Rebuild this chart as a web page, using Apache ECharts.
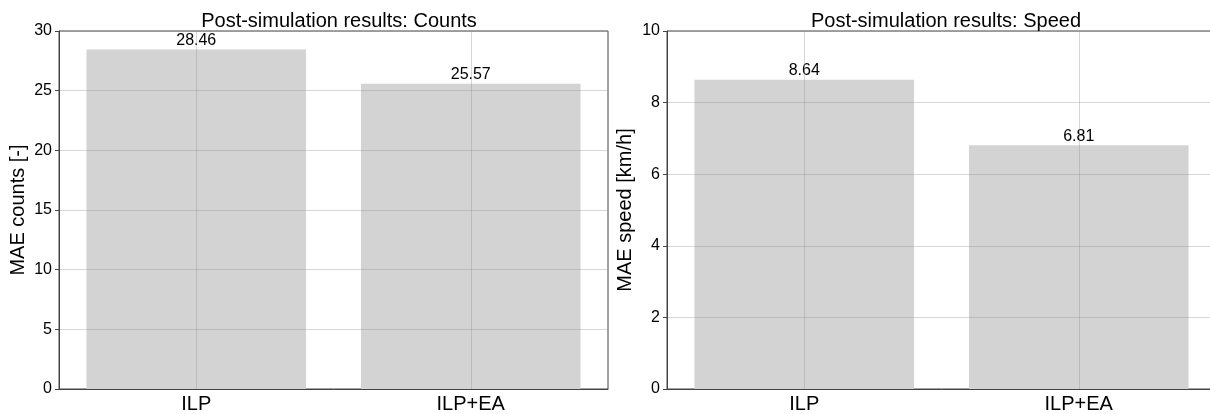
<!DOCTYPE html>
<html>
<head>
<meta charset="utf-8">
<script src="https://cdn.jsdelivr.net/npm/echarts@6/dist/echarts.min.js"></script>
<style>
    html, body { margin: 0; padding: 0; background: #fff; overflow: hidden; }
    /* a bit wider than the window: the right panel's frame falls just off-screen, as in the reference */
    #main { width: 1220px; height: 414px; }
</style>
</head>
<body>
<div id="main"></div>
<script>
var methods = ['ILP', 'ILP+EA'];
var maeCounts = [28.46, 25.57];
var maeSpeed = [8.64, 6.81];
var titles = ['Post-simulation results: Counts', 'Post-simulation results: Speed'];
var yNames = ['MAE counts [-]', 'MAE speed [km/h]'];

var FONT = 'Liberation Sans, Arial, sans-serif';
var SPINE = '#444';
var GRID_LINE = 'rgba(140,140,140,0.35)';

var grids = [
    { left: 59, top: 31, width: 549, bottom: 22 },
    { left: 667, top: 31, width: 549, bottom: 22 }
];

function makeXAxis(idx) {
    return {
        type: 'category',
        gridIndex: idx,
        data: methods,
        z: 3,
        axisLine: { lineStyle: { color: SPINE, width: 1 } },
        axisTick: { alignWithLabel: true, length: 4, lineStyle: { color: SPINE } },
        axisLabel: { color: '#000', fontSize: 20, fontFamily: FONT, margin: 5 },
        splitLine: { show: false }
    };
}

function makeYAxis(idx, max, step) {
    return {
        type: 'value',
        gridIndex: idx,
        min: 0,
        max: max,
        interval: step,
        z: 3,
        name: yNames[idx],
        nameLocation: 'middle',
        nameGap: idx === 0 ? 31 : 32,
        nameTextStyle: { color: '#000', fontSize: 20, fontFamily: FONT },
        axisLine: { show: true, lineStyle: { color: SPINE, width: 1 } },
        axisTick: { show: true, length: 4, lineStyle: { color: SPINE } },
        axisLabel: { color: '#000', fontSize: 16, fontFamily: FONT, margin: 7 },
        splitLine: { show: true, lineStyle: { color: GRID_LINE, width: 1 } }
    };
}

function makeSeries(idx, values) {
    return {
        type: 'bar',
        xAxisIndex: idx,
        yAxisIndex: idx,
        data: values,
        barWidth: '80%',
        itemStyle: { color: '#d3d3d3' },
        label: {
            show: true,
            position: 'top',
            distance: 1,
            color: '#000',
            fontSize: 16,
            fontFamily: FONT,
            formatter: function (p) { return p.value.toFixed(2); }
        },
        markLine: {
            silent: true,
            symbol: 'none',
            label: { show: false },
            lineStyle: { color: GRID_LINE, width: 1, type: 'solid' },
            data: methods.map(function (m) { return { xAxis: m }; })
        }
    };
}

var chart = echarts.init(document.getElementById('main'), null, { renderer: 'canvas' });
chart.setOption({
    animation: false,
    backgroundColor: '#fff',
    title: [
        { text: titles[0], left: 334, top: 6, textAlign: 'center',
          textStyle: { color: '#000', fontSize: 20, fontWeight: 'normal', fontFamily: FONT } },
        { text: titles[1], left: 941, top: 6, textAlign: 'center',
          textStyle: { color: '#000', fontSize: 20, fontWeight: 'normal', fontFamily: FONT } }
    ],
    grid: grids.map(function (g) {
        return Object.assign({ show: true, borderColor: SPINE, borderWidth: 1, backgroundColor: 'transparent' }, g);
    }),
    xAxis: [makeXAxis(0), makeXAxis(1)],
    yAxis: [makeYAxis(0, 30, 5), makeYAxis(1, 10, 2)],
    series: [makeSeries(0, maeCounts), makeSeries(1, maeSpeed)]
});
</script>
</body>
</html>
